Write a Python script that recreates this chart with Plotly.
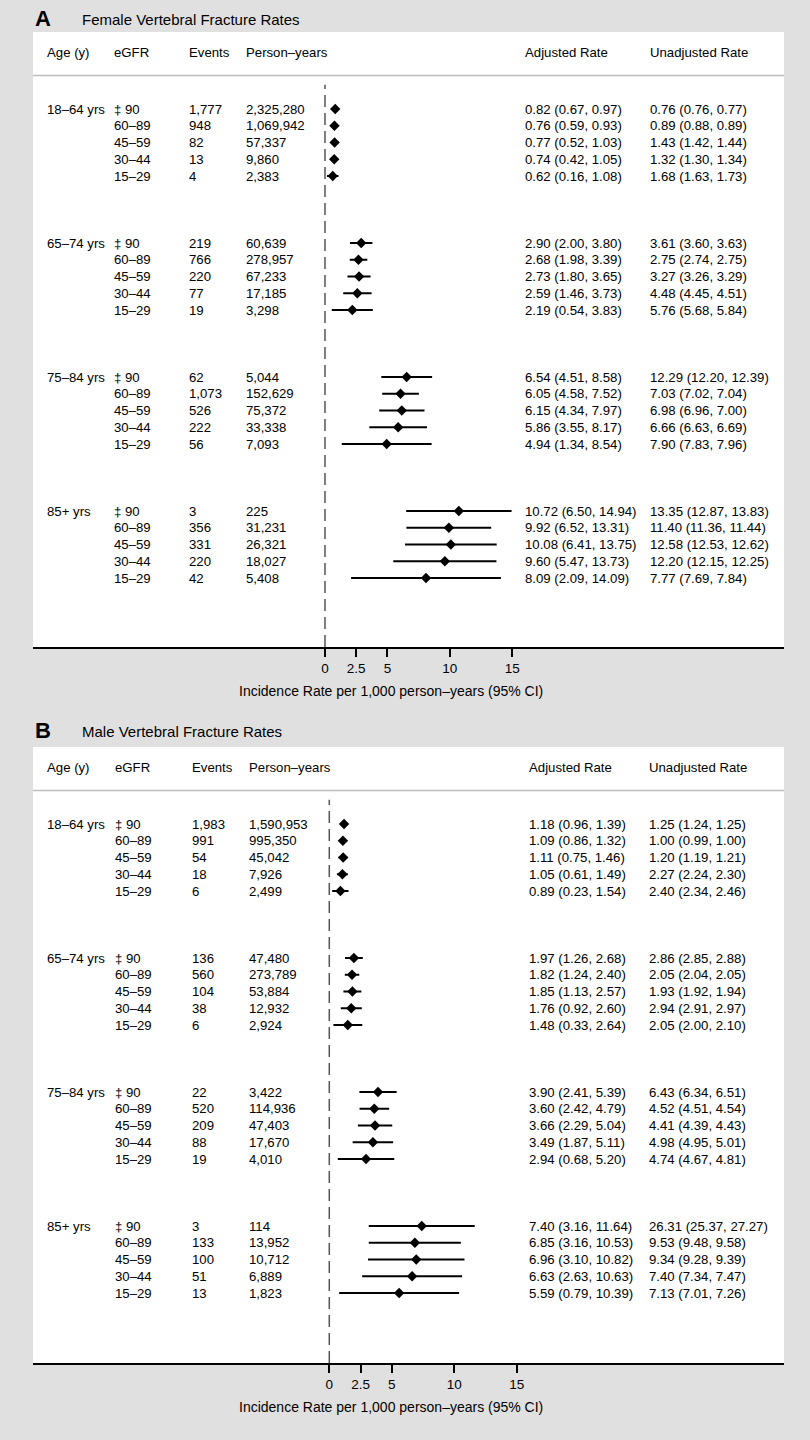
import plotly.graph_objects as go

# ---------------- data ----------------
age_groups = ["18–64 yrs", "65–74 yrs", "75–84 yrs", "85+ yrs"]
egfr_levels = ["‡ 90", "60–89", "45–59", "30–44", "15–29"]

# Female
f_events = [1777, 948, 82, 13, 4,
            219, 766, 220, 77, 19,
            62, 1073, 526, 222, 56,
            3, 356, 331, 220, 42]
f_pyears = [2325280, 1069942, 57337, 9860, 2383,
            60639, 278957, 67233, 17185, 3298,
            5044, 152629, 75372, 33338, 7093,
            225, 31231, 26321, 18027, 5408]
f_adj = [0.82, 0.76, 0.77, 0.74, 0.62,
         2.90, 2.68, 2.73, 2.59, 2.19,
         6.54, 6.05, 6.15, 5.86, 4.94,
         10.72, 9.92, 10.08, 9.60, 8.09]
f_adj_lo = [0.67, 0.59, 0.52, 0.42, 0.16,
            2.00, 1.98, 1.80, 1.46, 0.54,
            4.51, 4.58, 4.34, 3.55, 1.34,
            6.50, 6.52, 6.41, 5.47, 2.09]
f_adj_hi = [0.97, 0.93, 1.03, 1.05, 1.08,
            3.80, 3.39, 3.65, 3.73, 3.83,
            8.58, 7.52, 7.97, 8.17, 8.54,
            14.94, 13.31, 13.75, 13.73, 14.09]
f_un = [0.76, 0.89, 1.43, 1.32, 1.68,
        3.61, 2.75, 3.27, 4.48, 5.76,
        12.29, 7.03, 6.98, 6.66, 7.90,
        13.35, 11.40, 12.58, 12.20, 7.77]
f_un_lo = [0.76, 0.88, 1.42, 1.30, 1.63,
           3.60, 2.74, 3.26, 4.45, 5.68,
           12.20, 7.02, 6.96, 6.63, 7.83,
           12.87, 11.36, 12.53, 12.15, 7.69]
f_un_hi = [0.77, 0.89, 1.44, 1.34, 1.73,
           3.63, 2.75, 3.29, 4.51, 5.84,
           12.39, 7.04, 7.00, 6.69, 7.96,
           13.83, 11.44, 12.62, 12.25, 7.84]

# Male
m_events = [1983, 991, 54, 18, 6,
            136, 560, 104, 38, 6,
            22, 520, 209, 88, 19,
            3, 133, 100, 51, 13]
m_pyears = [1590953, 995350, 45042, 7926, 2499,
            47480, 273789, 53884, 12932, 2924,
            3422, 114936, 47403, 17670, 4010,
            114, 13952, 10712, 6889, 1823]
m_adj = [1.18, 1.09, 1.11, 1.05, 0.89,
         1.97, 1.82, 1.85, 1.76, 1.48,
         3.90, 3.60, 3.66, 3.49, 2.94,
         7.40, 6.85, 6.96, 6.63, 5.59]
m_adj_lo = [0.96, 0.86, 0.75, 0.61, 0.23,
            1.26, 1.24, 1.13, 0.92, 0.33,
            2.41, 2.42, 2.29, 1.87, 0.68,
            3.16, 3.16, 3.10, 2.63, 0.79]
m_adj_hi = [1.39, 1.32, 1.46, 1.49, 1.54,
            2.68, 2.40, 2.57, 2.60, 2.64,
            5.39, 4.79, 5.04, 5.11, 5.20,
            11.64, 10.53, 10.82, 10.63, 10.39]
m_un = [1.25, 1.00, 1.20, 2.27, 2.40,
        2.86, 2.05, 1.93, 2.94, 2.05,
        6.43, 4.52, 4.41, 4.98, 4.74,
        26.31, 9.53, 9.34, 7.40, 7.13]
m_un_lo = [1.24, 0.99, 1.19, 2.24, 2.34,
           2.85, 2.04, 1.92, 2.91, 2.00,
           6.34, 4.51, 4.39, 4.95, 4.67,
           25.37, 9.48, 9.28, 7.34, 7.01]
m_un_hi = [1.25, 1.00, 1.21, 2.30, 2.46,
           2.88, 2.05, 1.94, 2.97, 2.10,
           6.51, 4.54, 4.43, 5.01, 4.81,
           27.27, 9.58, 9.39, 7.47, 7.26]

tick_vals = [0, 2.5, 5, 10, 15]
tick_text = ["0", "2.5", "5", "10", "15"]
headers = ["Age (y)", "eGFR", "Events", "Person–years", "Adjusted Rate", "Unadjusted Rate"]
x_title = "Incidence Rate per 1,000 person–years (95% CI)"

# ---------------- layout constants ----------------
W, H = 810, 1440
FONT = "Liberation Sans, Arial, Helvetica, sans-serif"
BODY = 13.2
GRAY_BG = "#e0e0e0"
BOX_L, BOX_R = 33, 784

panels = [
    dict(letter="A", title="Female Vertebral Fracture Rates",
         events=f_events, pyears=f_pyears, adj=f_adj, lo=f_adj_lo, hi=f_adj_hi,
         un=f_un, un_lo=f_un_lo, un_hi=f_un_hi,
         top=32, bottom=647, first=109, xr=[-23.384, 36.759],
         cols=[45, 112, 187, 244, 523, 648], title_y=20, tick_title_y=691,
         xa="x", ya="y"),
    dict(letter="B", title="Male Vertebral Fracture Rates",
         events=m_events, pyears=m_pyears, adj=m_adj, lo=m_adj_lo, hi=m_adj_hi,
         un=m_un, un_lo=m_un_lo, un_hi=m_un_hi,
         top=747, bottom=1363, first=824, xr=[-23.717, 36.397],
         cols=[45, 113, 190, 247, 527, 647], title_y=731, tick_title_y=1407,
         xa="x2", ya="y2"),
]
ROW = 16.75

fig = go.Figure()
annotations = []
shapes = []

for k, p in enumerate(panels):
    ys = []
    for i in range(20):
        g, r = divmod(i, 5)
        ys.append(-(g * 8 + r))
    fig.add_trace(go.Scatter(
        x=p["adj"], y=ys, mode="markers",
        marker=dict(symbol="diamond", size=8, color="black"),
        error_x=dict(type="data", symmetric=False,
                     array=[h - a for h, a in zip(p["hi"], p["adj"])],
                     arrayminus=[a - l for a, l in zip(p["adj"], p["lo"])],
                     width=0, thickness=2, color="black"),
        xaxis=p["xa"], yaxis=p["ya"], showlegend=False, hoverinfo="skip"))

    y_top = (p["first"] - p["top"]) / ROW
    y_bot = -(p["bottom"] - p["first"]) / ROW
    yref = p["ya"]
    cols = [c / W for c in p["cols"]]

    # headers
    for c, htxt in zip(cols, headers):
        annotations.append(dict(x=c, y=3.4, xref="paper", yref=yref, text=htxt,
                                showarrow=False, xanchor="left", yanchor="middle",
                                font=dict(size=BODY, color="black", family=FONT)))
    # rows
    for i in range(20):
        g, r = divmod(i, 5)
        y = ys[i]
        cells = [age_groups[g] if r == 0 else "",
                 egfr_levels[r],
                 f"{p['events'][i]:,}",
                 f"{p['pyears'][i]:,}",
                 f"{p['adj'][i]:.2f} ({p['lo'][i]:.2f}, {p['hi'][i]:.2f})",
                 f"{p['un'][i]:.2f} ({p['un_lo'][i]:.2f}, {p['un_hi'][i]:.2f})"]
        for c, t in zip(cols, cells):
            if t:
                annotations.append(dict(x=c, y=y, xref="paper", yref=yref, text=t,
                                        showarrow=False, xanchor="left", yanchor="middle",
                                        font=dict(size=BODY, color="black", family=FONT)))
    # separator under header
    shapes.append(dict(type="line", xref="paper", yref=yref,
                       x0=BOX_L / W, x1=BOX_R / W, y0=2.0, y1=2.0,
                       line=dict(color="#bdbdbd", width=1.5)))
    # dashed reference line at 0
    shapes.append(dict(type="line", xref=p["xa"], yref=yref,
                       x0=0, x1=0, y0=y_bot, y1=1.45,
                       line=dict(color="#555555", width=1.5, dash="12px,6px")))
    # panel letter and title
    annotations.append(dict(x=BOX_L / W, y=1 - (p["title_y"] - 1) / H, xref="paper", yref="paper",
                            text=f"<b>{p['letter']}</b>", showarrow=False,
                            xanchor="left", yanchor="middle",
                            font=dict(size=22, color="black", family=FONT)))
    annotations.append(dict(x=80 / W, y=1 - p["title_y"] / H, xref="paper", yref="paper",
                            text=p["title"], showarrow=False,
                            xanchor="left", yanchor="middle",
                            font=dict(size=15, color="black", family=FONT)))
    # axis title
    annotations.append(dict(x=391 / W, y=1 - p["tick_title_y"] / H, xref="paper", yref="paper",
                            text=x_title, showarrow=False,
                            xanchor="center", yanchor="middle",
                            font=dict(size=14, color="black", family=FONT)))

    xaxis = dict(domain=[BOX_L / W, BOX_R / W], range=p["xr"], anchor=p["ya"],
                 tickvals=tick_vals, ticktext=tick_text, ticks="outside",
                 ticklen=8, tickwidth=1.5, tickcolor="black",
                 showline=True, linecolor="black", linewidth=1.5,
                 showgrid=False, zeroline=False, fixedrange=True,
                 tickfont=dict(size=13.5, color="black", family=FONT))
    yaxis = dict(domain=[1 - p["bottom"] / H, 1 - p["top"] / H], range=[y_bot, y_top],
                 anchor=p["xa"], visible=False, showgrid=False, zeroline=False,
                 fixedrange=True)
    suffix = "" if k == 0 else "2"
    fig.update_layout(**{f"xaxis{suffix}": xaxis, f"yaxis{suffix}": yaxis})

fig.update_layout(
    width=W, height=H, autosize=False,
    margin=dict(l=0, r=0, t=0, b=0, pad=0),
    paper_bgcolor=GRAY_BG, plot_bgcolor="white",
    annotations=annotations, shapes=shapes,
    font=dict(family=FONT, color="black"),
    showlegend=False,
)

fig.write_html(
    "out.html",
    config={"displayModeBar": False},
    post_script="document.body.style.margin='0';document.body.style.background='%s';" % GRAY_BG,
)
